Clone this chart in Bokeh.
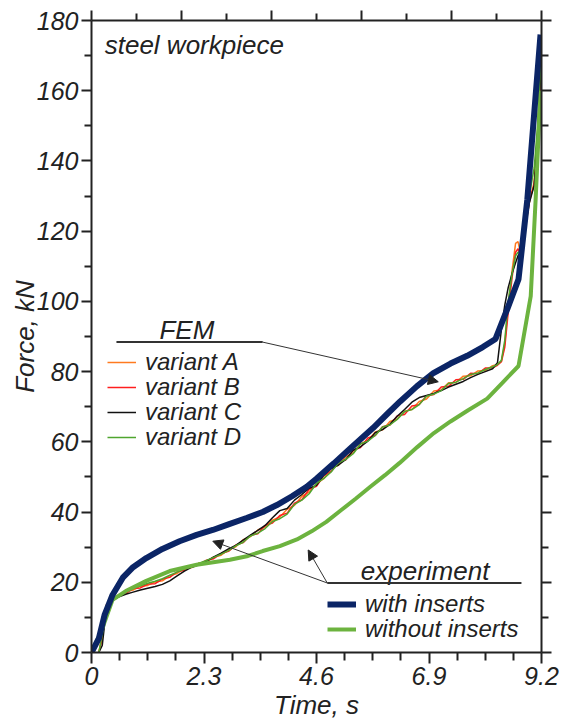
from bokeh.plotting import figure
from bokeh.models import (Legend, LegendItem, LinearAxis, FixedTicker, Range1d,
                          Label, Arrow, NormalHead)
from bokeh.embed import file_html
from bokeh.resources import INLINE

# ---------------- data ----------------
x_ticks = [0, 2.3, 4.6, 6.9, 9.2]
x_minor = [0.575, 1.15, 1.725, 2.875, 3.45, 4.025, 5.175, 5.75, 6.325, 7.475, 8.05, 8.625]
x_top_ticks = [0, 1.84, 3.68, 5.52, 7.36, 9.2]
x_top_minor = [0.92, 2.76, 4.6, 6.44, 8.28]
y_ticks = [0, 20, 40, 60, 80, 100, 120, 140, 160, 180]
y_minor = [10, 30, 50, 70, 90, 110, 130, 150, 170]

fem_labels = ["variant A", "variant B", "variant C", "variant D"]
exp_labels = ["with inserts", "without inserts"]

fem_x = [0.15, 0.22, 0.30, 0.40, 0.55, 0.70, 0.85, 1.00, 1.15, 1.30,
         1.45, 1.60, 1.75, 1.90, 2.05, 2.20, 2.35, 2.50, 2.65, 2.80,
         2.95, 3.10, 3.25, 3.40, 3.55, 3.70, 3.85, 4.00, 4.15, 4.30,
         4.45, 4.60, 4.75, 4.90, 5.05, 5.20, 5.35, 5.50, 5.65, 5.80,
         5.95, 6.10, 6.25, 6.40, 6.55, 6.70, 6.85, 7.00, 7.15, 7.30,
         7.45, 7.60, 7.75, 7.90, 8.05, 8.20, 8.30, 8.38, 8.45, 8.52,
         8.60, 8.67, 8.72, 8.78, 8.85, 8.95, 9.05, 9.12, 9.20]

variant_a = [0.0, 5.0, 13.5, 15.2, 16.3, 17.4, 17.8, 18.9, 19.1, 20.1,
             20.4, 21.9, 22.5, 23.9, 24.2, 25.5, 25.8, 27.2, 27.7, 29.3,
             30.1, 32.1, 33.0, 34.9, 35.8, 37.7, 38.6, 40.8, 41.9, 44.5,
             45.7, 48.1, 49.5, 52.5, 53.3, 55.8, 56.8, 59.5, 60.4, 62.8,
             63.4, 65.8, 66.5, 68.7, 69.2, 71.5, 72.2, 74.5, 74.8, 76.8,
             76.9, 78.7, 78.8, 80.2, 80.3, 81.7, 82.0, 83.0, 88.0, 99.0,
             109.0, 116.5, 117.0, 113.0, 119.0, 128.0, 134.0, 148.0, 171.0]

variant_b = [0.0, 4.0, 13.0, 14.8, 16.0, 16.8, 18.2, 18.4, 19.5, 19.6,
             20.9, 21.4, 23.0, 23.4, 24.7, 25.0, 26.3, 26.7, 28.2, 28.8,
             30.6, 31.3, 33.4, 33.8, 36.2, 36.9, 39.0, 39.7, 42.5, 43.5,
             46.5, 47.3, 50.4, 51.6, 54.2, 54.9, 57.6, 58.4, 61.1, 61.8,
             64.3, 64.8, 67.4, 67.8, 70.2, 70.6, 73.1, 73.5, 75.6, 75.8,
             77.7, 77.8, 79.5, 79.4, 81.0, 81.1, 81.8, 82.8, 87.0, 97.0,
             107.0, 114.0, 115.0, 112.5, 120.0, 129.0, 133.0, 147.0, 170.0]

variant_c = [0.0, 2.0, 12.0, 14.6, 15.8, 16.6, 17.2, 17.8, 18.3, 18.8,
             19.4, 20.4, 21.8, 23.2, 24.3, 25.0, 26.0, 27.2, 28.3, 29.5,
             30.5, 32.0, 33.4, 34.8, 36.2, 38.4, 40.4, 41.0, 43.4, 45.0,
             46.8, 47.6, 50.6, 52.4, 53.4, 55.0, 57.6, 58.6, 60.2, 62.6,
             63.5, 65.0, 67.3, 69.2, 71.3, 72.6, 73.2, 73.8, 74.6, 75.6,
             76.4, 77.2, 78.3, 79.2, 80.0, 80.8, 82.5, 92.0, 99.0, 104.0,
             108.0, 111.0, 113.0, 114.0, 120.0, 128.0, 133.0, 147.0, 170.0]

variant_d = [0.0, 5.0, 13.2, 15.0, 16.2, 17.3, 18.2, 19.0, 19.7, 20.3,
             21.0, 22.0, 22.9, 23.8, 24.6, 25.4, 26.2, 27.1, 28.0, 29.0,
             30.4, 31.4, 33.2, 34.0, 35.3, 37.3, 38.1, 39.4, 42.2, 43.4,
             45.2, 48.2, 49.6, 51.4, 54.0, 55.0, 56.6, 59.4, 60.2, 61.8,
             64.2, 64.8, 66.4, 68.6, 69.2, 70.6, 73.0, 73.6, 74.6, 76.6,
             77.0, 78.0, 79.2, 79.6, 80.6, 81.4, 82.0, 83.2, 89.0, 100.0,
             108.0, 113.0, 114.0, 113.5, 121.0, 130.0, 138.0, 150.0, 172.0]

with_x = [0, 0.15, 0.27, 0.43, 0.64, 0.85, 1.12, 1.45, 1.8, 2.15,
          2.48, 2.8, 3.17, 3.5, 3.79, 4.1, 4.4, 4.61, 4.95, 5.29,
          5.76, 6.05, 6.31, 6.65, 6.99, 7.34, 7.68, 8.0, 8.26, 8.5,
          8.73, 8.91, 9.18]
with_y = [0, 4, 10.8, 16.4, 21.3, 24.3, 26.9, 29.5, 31.7, 33.5,
          34.9, 36.5, 38.3, 40, 42, 44.5, 47.2, 49.6, 53.8, 58.1,
          64.0, 68.0, 71.5, 75.8, 79.6, 82.3, 84.5, 87, 89.3, 97.8,
          106.3, 129, 176]

without_x = [0, 0.2, 0.43, 0.7, 1.12, 1.6, 2.15, 2.83, 3.2, 3.5,
             3.85, 4.2, 4.5, 4.8, 5.1, 5.4, 5.7, 6.0, 6.3, 6.66,
             7.0, 7.34, 7.7, 8.09, 8.4, 8.73, 8.98, 9.08, 9.18]
without_y = [0, 6, 15, 17.5, 20.4, 23.2, 25, 26.4, 27.5, 28.9,
             30.3, 32.2, 34.5, 37.2, 40.5, 43.8, 47.2, 50.5, 54, 58.5,
             62.5, 65.8, 69, 72.3, 76.8, 81.6, 101.5, 129, 160]

FONT = "Liberation Sans"
INK = "#222222"
FS_TICK = "25px"
FS = "26px"
FS_LEG = "24px"

p = figure(width=564, height=722, output_backend="svg", toolbar_location=None,
           x_range=Range1d(0, 9.2), y_range=Range1d(0, 180),
           min_border_left=91, min_border_right=23, min_border_top=20,
           min_border_bottom=67,
           x_axis_label="Time, s", y_axis_label="Force, kN")
p.outline_line_color = None
p.xgrid.visible = False
p.ygrid.visible = False
p.background_fill_color = "white"
p.border_fill_color = "white"


def style_axis(ax, major_out, minor_out, labels=True):
    ax.axis_line_color = INK
    ax.axis_line_width = 2
    ax.major_tick_line_color = INK
    ax.major_tick_line_width = 2
    ax.minor_tick_line_color = INK
    ax.minor_tick_line_width = 2
    ax.major_tick_in = 0
    ax.minor_tick_in = 0
    ax.major_tick_out = major_out
    ax.minor_tick_out = minor_out
    ax.major_label_text_font = FONT
    ax.major_label_text_font_style = "italic"
    ax.axis_label_text_font = FONT
    ax.axis_label_text_font_style = "italic"
    ax.axis_label_text_color = INK
    ax.axis_label_text_font_size = FS
    if labels:
        ax.major_label_text_font_size = FS_TICK
        ax.major_label_text_color = INK
    else:
        ax.major_label_text_font_size = "1px"
        ax.major_label_text_color = None
        ax.major_label_standoff = 0


xa = p.xaxis[0]
xa.ticker = FixedTicker(ticks=x_ticks, minor_ticks=x_minor)
xa.major_label_overrides = {0: "0", 2.3: "2.3", 4.6: "4.6", 6.9: "6.9", 9.2: "9.2"}
style_axis(xa, 11, 8)
xa.major_label_standoff = 3
xa.axis_label_standoff = 2

ya = p.yaxis[0]
ya.ticker = FixedTicker(ticks=y_ticks, minor_ticks=y_minor)
style_axis(ya, 10, 7)
ya.major_label_standoff = 3
ya.axis_label_standoff = -6

top = LinearAxis(ticker=FixedTicker(ticks=x_top_ticks, minor_ticks=x_top_minor))
style_axis(top, 10, 7, labels=False)
p.add_layout(top, "above")

right = LinearAxis(ticker=FixedTicker(ticks=y_ticks, minor_ticks=y_minor))
style_axis(right, 10, 7, labels=False)
p.add_layout(right, "right")

# thin FEM lines
ra = p.line(fem_x, variant_a, line_color="#ff7a1f", line_width=1.5)
rb = p.line(fem_x, variant_b, line_color="#ff1e1e", line_width=1.5)
rc = p.line(fem_x, variant_c, line_color="#111111", line_width=1.5)
rd = p.line(fem_x, variant_d, line_color="#4fa52e", line_width=1.5)
# experiment
rwo = p.line(without_x, without_y, line_color="#6cb33f", line_width=4)
rw = p.line(with_x, with_y, line_color="#0b2566", line_width=6)

legend_common = dict(background_fill_alpha=0, border_line_color=None, padding=0,
                     margin=0, spacing=0, glyph_width=29, glyph_height=20,
                     label_standoff=9, label_height=20,
                     label_text_font=FONT, label_text_font_style="italic",
                     label_text_font_size=FS_LEG, label_text_color=INK)

# one legend entry per row, so the rows can sit 25 px apart as in the reference
fem_rows = [(16, 276), (16, 251), (16, 226), (16, 201)]
for lab, rend, loc in zip(fem_labels, [ra, rb, rc, rd], fem_rows):
    p.add_layout(Legend(items=[LegendItem(label=lab, renderers=[rend])],
                        location=loc, **legend_common))

exp_rows = [(236, 34), (236, 9)]
for lab, rend, loc in zip(exp_labels, [rw, rwo], exp_rows):
    p.add_layout(Legend(items=[LegendItem(label=lab, renderers=[rend])],
                        location=loc, **legend_common))

text_common = dict(text_font=FONT, text_font_style="italic", text_font_size=FS,
                   text_color=INK, text_baseline="alphabetic")
p.add_layout(Label(x=0.27, y=173.0, text="steel workpiece", **text_common))
p.add_layout(Label(x=1.95, y=91.8, text="FEM", text_align="center", **text_common))
p.add_layout(Label(x=6.82, y=23.2, text="experiment", text_align="center", **text_common))

# leader lines and arrows
p.add_layout(Arrow(end=None, x_start=0.51, y_start=88.4, x_end=3.5, y_end=88.4,
                   line_color="#333333", line_width=2))
p.add_layout(Arrow(end=NormalHead(size=10, fill_color="#222222", line_color="#222222", line_width=1),
                   x_start=3.5, y_start=88.4, x_end=7.09, y_end=77.1,
                   line_color="#333333", line_width=1))
p.add_layout(Arrow(end=None, x_start=4.82, y_start=19.8, x_end=8.79, y_end=19.8,
                   line_color="#333333", line_width=2))
p.add_layout(Arrow(end=NormalHead(size=10, fill_color="#222222", line_color="#222222", line_width=1),
                   x_start=4.82, y_start=19.8, x_end=2.48, y_end=31.7,
                   line_color="#333333", line_width=1))
p.add_layout(Arrow(end=NormalHead(size=10, fill_color="#222222", line_color="#222222", line_width=1),
                   x_start=4.82, y_start=19.8, x_end=4.43, y_end=29.2,
                   line_color="#333333", line_width=1))

open("out.html", "w").write(file_html(p, INLINE))
